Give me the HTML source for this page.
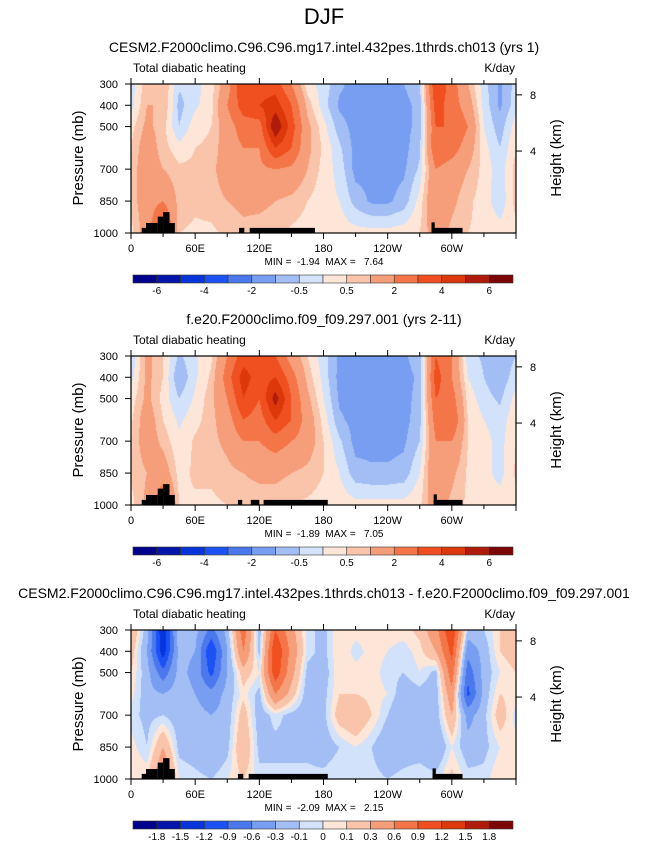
<!DOCTYPE html>
<html><head><meta charset="utf-8">
<style>
html,body{margin:0;padding:0;background:#fff;}
#wrap{position:relative;width:648px;height:844px;overflow:hidden;font-family:"Liberation Sans",Arial,sans-serif;}
canvas{position:absolute;}
svg{position:absolute;left:0;top:0;}
</style></head>
<body>
<div id="wrap">
<canvas id="c0" width="385" height="149" style="left:131px;top:84px"></canvas>
<canvas id="c1" width="385" height="149" style="left:131px;top:356px"></canvas>
<canvas id="c2" width="385" height="149" style="left:131px;top:630px"></canvas>
<svg id="ov" width="648" height="844"></svg>
</div>
<script>
// ---- data ----
const lonGrid = [0,15,30,45,60,75,90,105,120,135,150,165,180,195,210,225,240,255,270,285,300,315,330,345,360];
const pLevels = [300,400,500,600,700,850,1000];
// each column: values at pLevels (top->bottom)
const heat1 = [
[-0.3,-0.2,0.3,0.5,0.7,0.7,0.3],[0.8,1,1.2,1.5,1.5,1.5,1.5],[1,1,0.7,0.7,1,2,4],[-0.4,-0.7,-0.5,0.2,0.6,0.8,0.5],
[-0.2,-0.1,0.3,0.5,0.6,0.6,0.4],[0.3,0.3,0.5,0.6,0.8,0.7,0.4],[1.5,2,1.5,1.5,1.5,1,0.6],[4,3.5,2.5,2,1.8,1.2,0.8],
[3.5,4,2.5,2,1.8,1.2,0.7],[3.5,4.5,6,4,2,1,0.6],[2,3,3.5,3,1.8,0.8,0.4],[0.2,0.8,1.2,1.2,1,0.5,0.3],
[-0.2,-0.3,0.2,0.4,0.3,0.2,0.3],[-0.9,-1.1,-0.8,-0.4,-0.2,0,0.3],[-1.2,-1.2,-1.2,-1.2,-1.2,-0.7,0.2],[-1.2,-1.2,-1.2,-1.2,-1.2,-1.1,0.2],
[-1.2,-1.2,-1.2,-1.2,-1.2,-1.1,0.2],[-1,-1.2,-1.2,-1.2,-1.1,-0.8,0.3],[-0.6,-0.8,-0.8,-0.6,-0.4,0.2,0.5],[4,3.5,3,3,2,2,1.5],
[2.5,2.5,3,2.5,1.5,1.2,0.8],[1,1.5,2,1.5,1,0.6,0.5],[-0.3,-0.2,0,0.2,0.3,0.3,0.4],[-1.1,-1.1,-0.8,-0.5,-0.3,-0.4,0.3],
[-0.3,-0.2,0.3,0.5,0.7,0.7,0.3]];
const heat2 = [
[-0.5,-0.2,0.2,0.4,0.5,0.6,0.3],[1.2,1.2,1.2,1.5,1.5,1,1.2],[0.5,0.5,0.3,0.5,0.8,1.5,3],[-0.6,-1,-0.5,-0.1,0.1,0.3,0.5],
[-0.1,-0.1,0.1,0.3,0.6,0.6,0.4],[0.4,0.6,0.8,0.8,0.8,0.6,0.4],[2,2.5,2,1.5,1.2,0.8,0.5],[3.5,4.5,4,3,2,1,0.6],
[3,3.5,3,2.5,2,1.2,0.6],[3,4,5.5,4,2.5,1.2,0.6],[1.5,2.5,3,3,2,1,0.5],[0.5,0.8,1.2,1.5,1.5,0.8,0.4],
[-0.3,-0.2,0,0.3,0.5,0.5,0.3],[-1.1,-1.2,-1.1,-0.9,-0.4,0,0.3],[-1.2,-1.2,-1.2,-1.2,-1.2,-0.8,0.2],[-1.2,-1.2,-1.2,-1.2,-1.2,-0.9,0.2],
[-1.2,-1.2,-1.2,-1.2,-1.2,-0.9,0.2],[-1.1,-1.2,-1.2,-1.2,-1.1,-0.8,0.2],[-0.7,-0.9,-0.8,-0.7,-0.5,0,0.4],[3,3.5,3,2.5,2,2,1.5],
[2,2,2.5,3,2,1.2,0.8],[-0.3,0,0.3,0.5,0.5,0.4,0.4],[-0.6,-0.5,-0.3,0,0.2,0.2,0.3],[-0.9,-0.9,-0.6,-0.3,-0.2,-0.2,0.3],
[-0.5,-0.2,0.2,0.4,0.5,0.6,0.3]];
const diff3 = [
[0.3,0.2,0.1,0.05,-0.05,0.05,0.1],[-0.2,-0.3,-0.2,-0.2,-0.15,-0.1,0.1],[-1.5,-1.4,-0.8,-0.3,-0.1,0.3,0.6],[-0.1,-0.2,-0.2,-0.15,-0.2,-0.15,0],
[-0.2,-0.3,-0.4,-0.3,-0.2,-0.2,-0.05],[-0.7,-1.2,-1.0,-0.5,-0.3,-0.3,-0.1],[-0.2,-0.3,-0.3,-0.2,-0.2,-0.15,0],[0.8,0.6,0.2,0.05,0.2,0.3,0.1],
[-0.2,-0.15,0,-0.15,-0.2,-0.15,-0.05],[0.9,1.2,1.1,0.6,-0.05,-0.15,-0.05],[0.4,0.5,0.4,0.2,-0.15,-0.15,-0.05],[-0.05,-0.05,-0.15,-0.2,-0.2,-0.15,-0.05],
[-0.15,-0.15,-0.2,-0.15,-0.15,-0.2,-0.05],[0.1,0.1,0.1,0.1,0.2,-0.1,0],[0.05,-0.05,0.05,0.1,0.3,0,0],[0.05,0.05,0.05,0.05,0.1,-0.1,-0.05],
[0.05,0,-0.05,0,-0.1,-0.25,-0.1],[0.05,-0.05,-0.1,-0.2,-0.3,-0.2,-0.05],[0.15,0.05,0,-0.15,-0.3,-0.2,0],[0.5,0.3,-0.15,-0.2,-0.2,-0.3,-0.05],
[1.2,1,0.8,0.5,0.3,0,0.15],[-0.15,-0.5,-0.8,-1.0,-0.4,-0.2,-0.05],[-0.1,-0.2,-0.2,-0.2,-0.15,-0.15,-0.05],[0.1,0.1,0,0.1,0.2,0,0.1],
[0.3,0.2,0.1,0.05,-0.05,0.05,0.1]];
const levelsAbs = [-6,-5,-4,-3,-2,-1,-0.5,0,0.5,1,2,3,4,5,6];
const labelsAbs = ["-6","-4","-2","-0.5","0.5","2","4","6"];
const levelsDiff = [-1.8,-1.5,-1.2,-0.9,-0.6,-0.3,-0.1,0,0.1,0.3,0.6,0.9,1.2,1.5,1.8];
const labelsDiff = ["-1.8","-1.5","-1.2","-0.9","-0.6","-0.3","-0.1","0","0.1","0.3","0.6","0.9","1.2","1.5","1.8"];
// topography: [lonStart, lonEnd, pTop]
const topo1 = [[10,14,976],[14,25,953],[25,30,923],[30,36,902],[36,41,953],[101,106,976],[111,172,976],[281,284,950],[281,310,976]];
const topo2 = [[10,14,976],[14,25,953],[25,30,923],[30,36,902],[36,41,953],[100,104,976],[112,120,976],[124,184,976],[283,286,950],[283,310,976]];
const topo3 = [[10,14,976],[14,25,953],[25,30,923],[30,36,902],[36,41,953],[100,105,976],[110,184,976],[282,285,950],[282,310,976]];
const xTickLons = [0,60,120,180,240,300];
const xTickLabels = ["0","60E","120E","180","120W","60W"];
const pTicks = [300,400,500,700,850,1000];
const hTickP = [351,615];
const hTickLabels = ["8","4"];
const panelTitles = ["CESM2.F2000climo.C96.C96.mg17.intel.432pes.1thrds.ch013 (yrs 1)","f.e20.F2000climo.f09_f09.297.001 (yrs 2-11)","CESM2.F2000climo.C96.C96.mg17.intel.432pes.1thrds.ch013 - f.e20.F2000climo.f09_f09.297.001"];
const minmax = ["MIN =  -1.94  MAX =   7.64","MIN =  -1.89  MAX =   7.05","MIN =  -2.09  MAX =   2.15"];

const colors = [[0,0,138],[4,22,170],[8,52,220],[28,82,245],[76,120,238],[120,158,242],[162,190,245],[210,226,250],
[253,230,216],[249,196,170],[246,158,122],[244,118,72],[240,80,32],[220,56,12],[176,28,10],[124,6,6]];

// ---- geometry ----
const X0=131,X1=516,PW=385,PH=149;
const offs=[0,272,546];
function xOf(lon){return X0+lon/360*PW;}
function yOf(p,off){return 84+off+(p-300)/700*PH;}

function sample(data,lon,p){
  let i=Math.min(Math.floor(lon/15),lonGrid.length-2);
  const fx=(lon-lonGrid[i])/(lonGrid[i+1]-lonGrid[i]);
  let j=0; while(j<pLevels.length-2 && p>pLevels[j+1]) j++;
  const fy=Math.max(0,Math.min(1,(p-pLevels[j])/(pLevels[j+1]-pLevels[j])));
  const a=data[i][j],b=data[i+1][j],c=data[i][j+1],d=data[i+1][j+1];
  return (a*(1-fx)+b*fx)*(1-fy)+(c*(1-fx)+d*fx)*fy;
}
function drawField(id,data,levels){
  const cv=document.getElementById(id),ctx=cv.getContext('2d');
  const img=ctx.createImageData(PW,PH);
  for(let py=0;py<PH;py++){const p=300+(py+0.5)/PH*700;
    for(let px=0;px<PW;px++){const lon=(px+0.5)/PW*360;
      const v=sample(data,lon,p);let k=0;while(k<levels.length&&v>=levels[k])k++;
      const c=colors[k],o=(py*PW+px)*4;img.data[o]=c[0];img.data[o+1]=c[1];img.data[o+2]=c[2];img.data[o+3]=255;}}
  ctx.putImageData(img,0,0);
}
drawField('c0',heat1,levelsAbs);
drawField('c1',heat2,levelsAbs);
drawField('c2',diff3,levelsDiff);

const NS="http://www.w3.org/2000/svg",svg=document.getElementById('ov');
function mk(tag,attrs,parent){const e=document.createElementNS(NS,tag);for(const k in attrs)e.setAttribute(k,attrs[k]);(parent||svg).appendChild(e);return e;}
function txt(s,x,y,size,anchor,parent){const t=mk('text',{x:x,y:y,'font-size':size,'text-anchor':anchor||'middle',fill:'#000'},parent);t.textContent=s;return t;}

const title=txt("DJF",324,24,22);



const topos=[topo1,topo2,topo3];
for(let k=0;k<3;k++){
  const off=offs[k];
  const g=mk('g',{});
  
  
  topos[k].forEach(t=>{
    const r=mk('rect',{x:xOf(t[0]),y:yOf(t[2],off),width:xOf(t[1])-xOf(t[0]),height:yOf(1000,off)-yOf(t[2],off),fill:'#000'},g);
    
    
  });
  const st=txt(panelTitles[k],324,52+off,14,'middle',g);
  
  
  const lt=txt("Total diabatic heating",133,72+off,12,'start',g);
  
  
  const ut=txt("K/day",515,72+off,12,'end',g);
  
  
  const fr=mk('rect',{x:X0,y:84+off,width:PW,height:PH,fill:'none',stroke:'#000','stroke-width':1.2},g);
  
  
  for(let lon=0;lon<=360;lon+=30){
    const major=lon%60===0,x=xOf(lon),L=major?6:4;
    mk('line',{x1:x,x2:x,y1:233+off,y2:233+off+L,stroke:'#000'},g);
    mk('line',{x1:x,x2:x,y1:84+off,y2:84+off-L,stroke:'#000'},g);
  }
  xTickLons.forEach((lon,i)=>{const t=txt(xTickLabels[i],xOf(lon),252+off,11,'middle',g);
    
    });
  pTicks.forEach(p=>{const y=yOf(p,off);mk('line',{x1:X0,x2:X0-6,y1:y,y2:y,stroke:'#000'},g);
    const t=txt(String(p),118,y+4,11,'end',g);
    
    });
  hTickP.forEach((p,i)=>{const y=yOf(p,off);mk('line',{x1:X1,x2:X1+6,y1:y,y2:y,stroke:'#000'},g);
    const t=txt(hTickLabels[i],530,y+4,11,'start',g);
    
    });
  const yt=txt("Pressure (mb)",0,0,15,'middle',g);
  yt.setAttribute('transform','translate(83,'+(158+off)+') rotate(-90)');
  
  
  const ht=txt("Height (km)",0,0,15,'middle',g);
  ht.setAttribute('transform','translate(561,'+(158+off)+') rotate(-90)');
  
  
  const mm=txt(minmax[k],324,265+off,10,'middle',g);
  mm.setAttribute('style','white-space:pre');
  
  
  const cb=mk('g',{},g);
  
  
  const cx0=133,cw=380/16,cy=275+off;
  for(let i=0;i<16;i++){
    const r=mk('rect',{x:cx0+i*cw,y:cy,width:cw,height:8,fill:'rgb('+colors[i].join(',')+')',stroke:'#333','stroke-width':0.6},cb);
    
    
  }
  if(k<2){
    labelsAbs.forEach((s,i)=>{const t=txt(s,cx0+(1+2*i)*cw,294+off,10,'middle',cb);
      
      });
  } else {
    labelsDiff.forEach((s,i)=>{const t=txt(s,cx0+(1+i)*cw,294+off,10,'middle',cb);
      
      });
  }
}
</script>
</body></html>
